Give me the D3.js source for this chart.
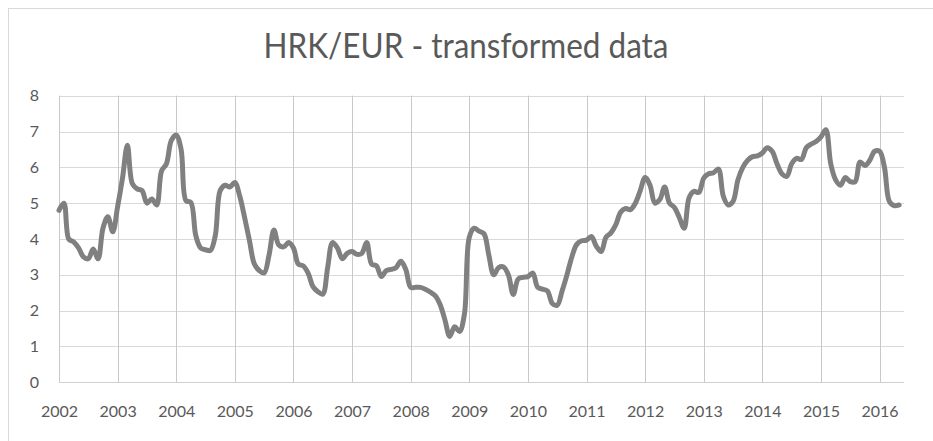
<!DOCTYPE html>
<html>
<head>
<meta charset="utf-8">
<script src="https://cdn.jsdelivr.net/npm/d3@7"></script>
<style>
  html, body { margin: 0; padding: 0; background: #fff; }
  svg { display: block; }
</style>
</head>
<body>
<svg id="chart" width="933" height="441"></svg>
<script>
// Monthly values, Jan 2002 onward
const values2002 = [4.8, 5.0, 4.0, 3.92, 3.75, 3.5, 3.45, 3.72, 3.45, 4.3, 4.62, 4.2];
const values2003 = [4.9, 5.7, 6.62, 5.55, 5.4, 5.35, 5.0, 5.12, 4.95, 5.9, 6.1, 6.75];
const values2004 = [6.9, 6.5, 5.07, 5.02, 4.1, 3.75, 3.7, 3.68, 4.1, 5.35, 5.5, 5.45];
const values2005 = [5.58, 5.2, 4.6, 3.95, 3.3, 3.12, 3.05, 3.55, 4.25, 3.83, 3.78, 3.9];
const values2006 = [3.75, 3.3, 3.25, 3.05, 2.67, 2.53, 2.46, 3.2, 3.9, 3.75, 3.45, 3.6];
const values2007 = [3.65, 3.57, 3.6, 3.9, 3.3, 3.25, 2.95, 3.12, 3.15, 3.2, 3.38, 3.15];
const values2008 = [2.65, 2.65, 2.65, 2.6, 2.52, 2.42, 2.18, 1.75, 1.28, 1.55, 1.42, 1.9];
const values2009 = [4.05, 4.3, 4.22, 4.15, 3.55, 3.0, 3.2, 3.22, 3.0, 2.45, 2.88, 2.93];
const values2010 = [2.95, 3.05, 2.65, 2.6, 2.55, 2.2, 2.15, 2.55, 3.0, 3.5, 3.85, 3.95];
const values2011 = [3.97, 4.07, 3.8, 3.65, 4.05, 4.17, 4.4, 4.75, 4.85, 4.82, 5.0, 5.35];
const values2012 = [5.72, 5.5, 5.0, 5.1, 5.45, 5.0, 4.88, 4.6, 4.3, 5.15, 5.33, 5.3];
const values2013 = [5.7, 5.82, 5.85, 5.95, 5.2, 4.95, 5.05, 5.65, 6.0, 6.2, 6.3, 6.32];
const values2014 = [6.4, 6.55, 6.45, 6.1, 5.82, 5.75, 6.1, 6.25, 6.22, 6.55, 6.65, 6.72];
const values2015 = [6.85, 7.05, 6.1, 5.65, 5.5, 5.72, 5.6, 5.6, 6.15, 6.05, 6.2, 6.45];
const values2016 = [6.45, 6.0, 5.05, 4.93, 4.95];

const series = [].concat(values2002, values2003, values2004, values2005, values2006,
  values2007, values2008, values2009, values2010, values2011, values2012, values2013,
  values2014, values2015, values2016);

const yearLabels = ["2002","2003","2004","2005","2006","2007","2008","2009","2010","2011","2012","2013","2014","2015","2016"];
const yTicks = [0, 1, 2, 3, 4, 5, 6, 7, 8];
const chartTitle = "HRK/EUR - transformed data";

const svg = d3.select("#chart");
const plotLeft = 59, plotRight = 904, plotTop = 95.7, plotBottom = 382.3;

// outer chart border
svg.append("rect").attr("x", 8.5).attr("y", 8.5).attr("width", 940).attr("height", 460)
  .attr("fill", "#fff").attr("stroke", "#d9d9d9").attr("stroke-width", 1);

const x = d3.scaleLinear().domain([0, 173]).range([plotLeft, plotRight]);
const y = d3.scaleLinear().domain([0, 8]).range([plotBottom, plotTop]);

const font = "Lato, 'Open Sans', sans-serif";

// horizontal gridlines
svg.append("g").attr("class", "hgrid")
  .selectAll("line").data(yTicks).join("line")
  .attr("x1", plotLeft).attr("x2", plotRight)
  .attr("y1", d => Math.round(y(d)) + 0.5).attr("y2", d => Math.round(y(d)) + 0.5)
  .attr("stroke", "#d9d9d9").attr("stroke-width", 1);

// vertical gridlines at each year
svg.append("g").attr("class", "vgrid")
  .selectAll("line").data(yearLabels).join("line")
  .attr("x1", (d, i) => Math.round(x(i * 12)) + 0.5).attr("x2", (d, i) => Math.round(x(i * 12)) + 0.5)
  .attr("y1", plotTop).attr("y2", plotBottom)
  .attr("stroke", "#c8c8c8").attr("stroke-width", 1);

// y axis labels
const yAxis = d3.axisLeft(y).tickValues(yTicks).tickSize(0).tickPadding(0).tickFormat(d3.format("d"));
const gy = svg.append("g").attr("transform", `translate(${plotLeft - 20},0)`).call(yAxis);
gy.select(".domain").remove();
gy.selectAll("text").attr("fill", "#595959").attr("font-family", font).attr("font-size", 16);

// x axis labels
const xAxis = d3.axisBottom(x).tickValues(yearLabels.map((d, i) => i * 12))
  .tickSize(0).tickPadding(0).tickFormat((d, i) => yearLabels[i]);
const gx = svg.append("g").attr("transform", `translate(0,${plotBottom + 23})`).call(xAxis);
gx.select(".domain").remove();
gx.selectAll("text").attr("fill", "#595959").attr("font-family", font).attr("font-size", 16);

// baseline
svg.append("line").attr("x1", plotLeft).attr("x2", plotRight)
  .attr("y1", Math.round(y(0)) + 0.5).attr("y2", Math.round(y(0)) + 0.5)
  .attr("stroke", "#d0d0d0");

// the line
const line = d3.line().x((d, i) => x(i)).y(d => y(d)).curve(d3.curveCatmullRom.alpha(0.5));
svg.append("path").datum(series)
  .attr("d", line).attr("fill", "none")
  .attr("stroke", "#808080").attr("stroke-width", 5)
  .attr("stroke-linejoin", "round").attr("stroke-linecap", "round");

// title
svg.append("text").attr("x", 466).attr("y", 58).attr("text-anchor", "middle")
  .attr("fill", "#595959").attr("font-family", font).attr("font-size", 34)
  .attr("textLength", 405).attr("lengthAdjust", "spacingAndGlyphs")
  .text(chartTitle);
</script>
</body>
</html>
